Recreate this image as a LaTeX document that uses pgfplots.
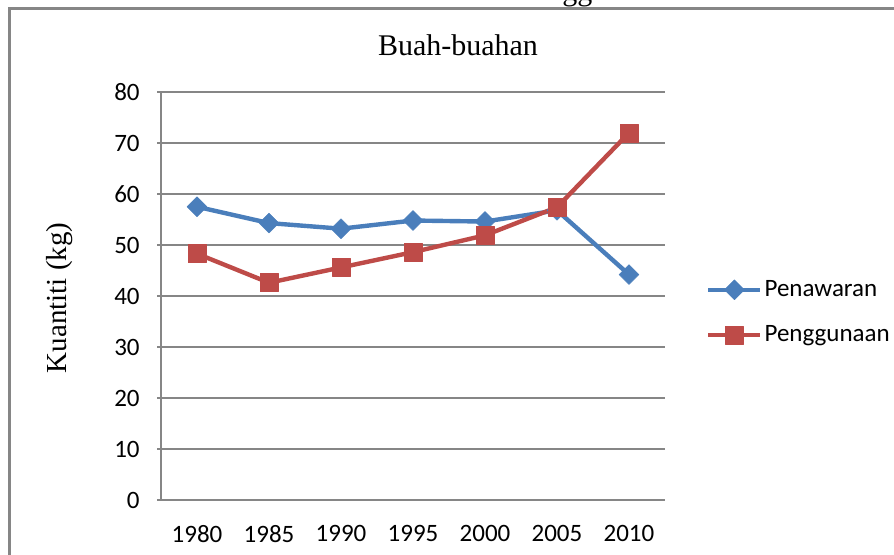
\documentclass[border=0pt]{standalone}
\usepackage{fontspec}
\setmainfont{Liberation Serif}
\newfontfamily\calibri{Carlito}
\usepackage{pgfplots}
\pgfplotsset{compat=1.18}
\definecolor{serA}{HTML}{4A7EBB}
\definecolor{serB}{HTML}{BE4B48}
\definecolor{gridc}{HTML}{868686}

\begin{document}
\begin{tikzpicture}
\begin{axis}[
  at={(80.5pt,-250pt)}, anchor=south west,
  scale only axis, width=252pt, height=204pt,
  xmin=-0.5, xmax=6.5, ymin=0, ymax=80,
  xtick={0,...,6},
  xticklabels={1980,1985,1990,1995,2000,2005,2010},
  ytick={0,10,...,80},
  axis x line*=bottom, axis y line*=left,
  axis line style={gridc, line width=0.7pt, -},
  ymajorgrids, grid style={gridc, line width=0.6pt},
  tick align=outside, major tick length=2pt,
  ytick style={gridc, line width=0.6pt}, xtick style={draw=none},
  /pgf/number format/assume math mode=true,
  ticklabel style={font=\calibri\fontsize{12.5}{14}\selectfont, inner sep=0pt},
  yticklabel style={xshift=-8.5pt},
  xticklabel style={yshift=-10.5pt},
  legend style={at={(1.081,0.46)}, anchor=west, draw=none, fill=none,
    font=\calibri\fontsize{12.5}{14}\selectfont, row sep=11pt, inner sep=0pt,
    nodes={inner sep=1pt, anchor=west}},
  legend cell align=left,
  legend image code/.code={
    \draw[mark repeat=2, mark phase=2, #1]
      plot coordinates {(0pt,0pt) (13pt,0pt) (26pt,0pt)};},
]
\addplot[serA, line width=2.2pt, line join=round, mark=square*, mark size=3.5pt,
  mark options={rotate=45, solid, line width=0.3pt}]
  coordinates {(0,57.5) (1,54.3) (2,53.2) (3,54.8) (4,54.6) (5,56.8) (6,44.2)};
\addlegendentry{Penawaran}
\addplot[serB, line width=2.2pt, line join=round, mark=square*, mark size=4.5pt,
  mark options={solid, line width=0.3pt}]
  coordinates {(0,48.3) (1,42.6) (2,45.6) (3,48.6) (4,51.9) (5,57.4) (6,72.0)};
\addlegendentry{Penggunaan}
\end{axis}
\begin{scope}[x=0.5pt, y=-0.5pt]
  \path[use as bounding box] (0,0) rectangle (894,555);
  \draw[gridc, line width=1.5pt] (9,580) -- (9,9) -- (920,9);
  \node[font=\fontsize{15}{18}\selectfont] at (458,45) {Buah-buahan};
  \node[rotate=90, font=\fontsize{14.5}{17}\selectfont] at (60,298) {Kuantiti (kg)};
  \node[anchor=base west, inner sep=0pt, font=\fontsize{15}{18}\selectfont] at (562,1) {gg};
\end{scope}
\end{tikzpicture}
\end{document}
